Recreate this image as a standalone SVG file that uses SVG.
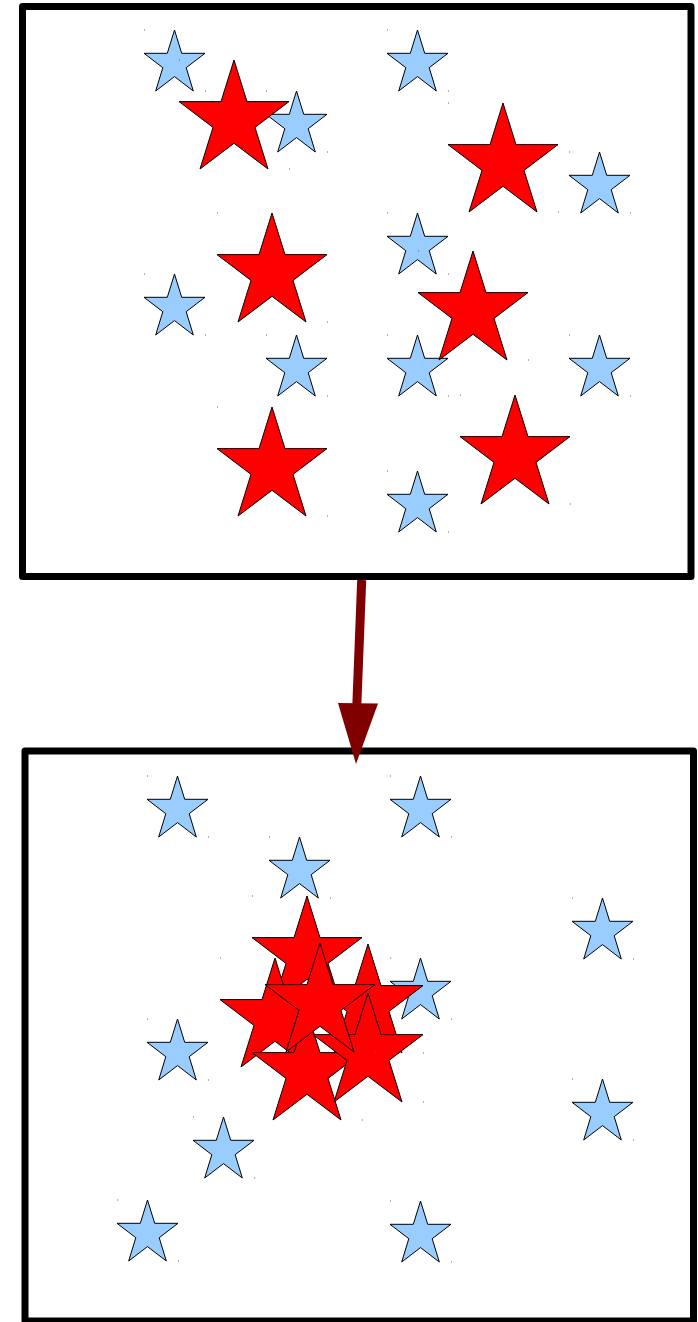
<svg xmlns="http://www.w3.org/2000/svg" xmlns:xlink="http://www.w3.org/1999/xlink" width="698" height="1322" viewBox="0 0 698 1322">
<style>
.box{fill:#ffffff;stroke:#000000;stroke-width:7;stroke-linejoin:round}
.b{fill:#99ccff;stroke:#000000;stroke-width:1;stroke-linejoin:miter}
.r{fill:#ff0000;stroke:#000000;stroke-width:1;stroke-linejoin:miter}
.dot{fill:#666666}
</style>
<defs>
<path id="bs" class="b" d="M30.5,0 L37.7,23.3 L61,23.3 L42.2,37.7 L49.3,61 L30.5,46.6 L11.7,61 L18.8,37.7 L0,23.3 L23.3,23.3 Z"/>
<g id="bstar"><use href="#bs"/><rect class="dot" x="0" y="-0.5" width="1" height="1"/><rect class="dot" x="61" y="60.5" width="1" height="1"/></g>
<path id="rs" class="r" d="M55,0 L68,41.6 L110,41.6 L76,67.4 L89,109 L55,83.3 L21,109 L34,67.4 L0,41.6 L42,41.6 Z"/>
<g id="rstar"><use href="#rs"/><rect class="dot" x="0" y="-0.5" width="1" height="1"/><rect class="dot" x="110" y="108.5" width="1" height="1"/></g>
</defs>
<rect width="698" height="1322" fill="#ffffff"/>
<g id="box-top"><rect class="box" x="22.5" y="6.5" width="668.5" height="570"/></g>
<g id="box-bottom"><rect class="box" x="25" y="751" width="668.5" height="570"/></g>
<g id="top-stars">
<g id="tb1"><use href="#bstar" transform="translate(144,30)"/></g>
<g id="tb2"><use href="#bstar" transform="translate(387,30)"/></g>
<g id="tb3"><use href="#bstar" transform="translate(266,91)"/></g>
<g id="tb4"><use href="#bstar" transform="translate(569,152)"/></g>
<g id="tb5"><use href="#bstar" transform="translate(387,213)"/></g>
<g id="tb6"><use href="#bstar" transform="translate(144,274)"/></g>
<g id="tb7"><use href="#bstar" transform="translate(266,335)"/></g>
<g id="tb8"><use href="#bstar" transform="translate(387,335)"/></g>
<g id="tb9"><use href="#bstar" transform="translate(569,335)"/></g>
<g id="tb10"><use href="#bstar" transform="translate(387,471)"/></g>
<g id="tr1"><use href="#rstar" transform="translate(179,60)"/></g>
<g id="tr2"><use href="#rstar" transform="translate(448,103)"/></g>
<g id="tr3"><use href="#rstar" transform="translate(217,213)"/></g>
<g id="tr4"><use href="#rstar" transform="translate(418,251)"/></g>
<g id="tr5"><use href="#rstar" transform="translate(217,407)"/></g>
<g id="tr6"><use href="#rstar" transform="translate(460,395)"/></g>
</g>
<g id="bottom-stars">
<g id="bb1"><use href="#bstar" transform="translate(147,776)"/></g>
<g id="bb2"><use href="#bstar" transform="translate(390,776)"/></g>
<g id="bb3"><use href="#bstar" transform="translate(269,837)"/></g>
<g id="bb4"><use href="#bstar" transform="translate(572,898)"/></g>
<g id="bb5"><use href="#bstar" transform="translate(390,958)"/></g>
<g id="bb6"><use href="#bstar" transform="translate(147,1019)"/></g>
<g id="bb7"><use href="#bstar" transform="translate(572,1079)"/></g>
<g id="bb8"><use href="#bstar" transform="translate(193,1117)"/></g>
<g id="bb9"><use href="#bstar" transform="translate(117,1200)"/></g>
<g id="bb10"><use href="#bstar" transform="translate(390,1201)"/></g>
<g id="brA"><use href="#rstar" transform="translate(252,896)"/></g>
<g id="brB"><use href="#rstar" transform="translate(220,958)"/></g>
<g id="brD"><use href="#rstar" transform="translate(313,944)"/></g>
<g id="brF"><use href="#rstar" transform="translate(252,1011)"/></g>
<g id="brE"><use href="#rstar" transform="translate(313,993)"/></g>
<g id="brC"><use href="#rstar" transform="translate(265,943)"/></g>
</g>
<g id="connectors">
<line x1="361.7" y1="580" x2="356.8" y2="706" stroke="#800000" stroke-width="9"/>
<polygon points="338,703 378,703.5 356,764" fill="#800000"/>
</g>
</svg>
